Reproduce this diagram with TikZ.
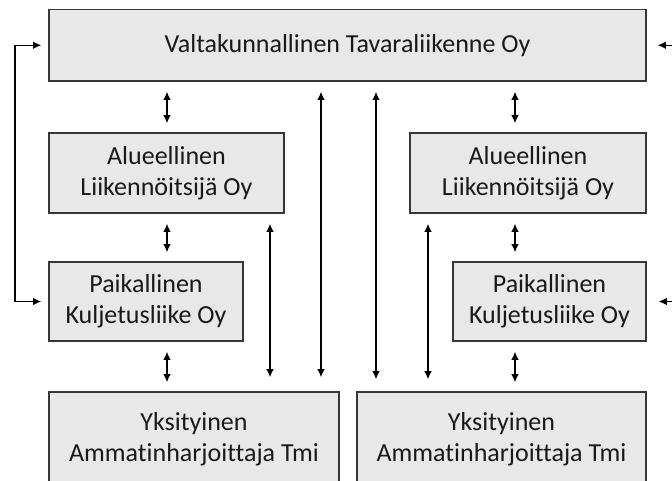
\documentclass[tikz,border=0pt]{standalone}
\usepackage{fontspec}
\setmainfont[Ligatures=NoCommon]{Carlito}
\usetikzlibrary{arrows.meta}
\definecolor{boxfill}{RGB}{232,232,232}
\definecolor{boxline}{RGB}{55,55,55}
\definecolor{txt}{RGB}{25,25,25}
\tikzset{
  org/.style={draw=boxline, line width=1.6pt, fill=boxfill, inner sep=0pt,
    align=center, text=txt, font=\fontsize{26}{31}\selectfont},
  tip/.tip={Latex[length=8pt,width=7.5pt]},
  link/.style={tip-tip, line width=1.3pt, shorten <=10pt, shorten >=9pt},
}
\begin{document}
\begin{tikzpicture}[x=1pt,y=-1pt]
\useasboundingbox (0,0) rectangle (672,481);
\clip (0,0) rectangle (672,481);

% organisation levels
\node[org, minimum width=597pt, minimum height=71.5pt] (V) at (347.5,45.25)
  {Valtakunnallinen Tavaraliikenne Oy};
\node[org, minimum width=235pt, minimum height=80pt] (AL) at (166.5,173)
  {Alueellinen\\Liikennöitsijä Oy};
\node[org, minimum width=236pt, minimum height=80pt] (AR) at (528,173)
  {Alueellinen\\Liikennöitsijä Oy};
\node[org, minimum width=194pt, minimum height=79pt] (PL) at (146,301.5)
  {Paikallinen\\Kuljetusliike Oy};
\node[org, minimum width=193pt, minimum height=79pt] (PR) at (549.5,301.5)
  {Paikallinen\\Kuljetusliike Oy};
\node[org, minimum width=290pt, minimum height=95pt] (YL) at (194,439.5)
  {Yksityinen\\Ammatinharjoittaja Tmi};
\node[org, minimum width=289pt, minimum height=95pt] (YR) at (501.5,439.5)
  {Yksityinen\\Ammatinharjoittaja Tmi};

% connector columns
\coordinate (c1) at (167,0);
\coordinate (c2) at (270,0);
\coordinate (c3) at (321,0);
\coordinate (c4) at (376,0);
\coordinate (c5) at (428,0);
\coordinate (c6) at (515,0);
\coordinate (lx) at (15,0);
\coordinate (rx) at (690,0);

% left chain
\draw[link] (V.south -| c1) -- (AL.north -| c1);
\draw[link] (AL.south -| c1) -- (PL.north -| c1);
\draw[link] (PL.south -| c1) -- (YL.north -| c1);
\draw[link, shorten >=14pt] (AL.south -| c2) -- (YL.north -| c2);
\draw[link, shorten >=14pt] (V.south -| c3) -- (YL.north -| c3);

% right chain
\draw[link, shorten >=12pt] (V.south -| c4) -- (YR.north -| c4);
\draw[link, shorten >=12pt] (AR.south -| c5) -- (YR.north -| c5);
\draw[link] (V.south -| c6) -- (AR.north -| c6);
\draw[link] (AR.south -| c6) -- (PR.north -| c6);
\draw[link] (PR.south -| c6) -- (YR.north -| c6);

% side loops
\draw[link, shorten <=7pt, shorten >=7pt]
  (V.west) -- (V.west -| lx) -- (PL.west -| lx) -- (PL.west);
\draw[link, shorten <=11pt, shorten >=12pt]
  (V.east) -- (V.east -| rx) -- (PR.east -| rx) -- (PR.east);
\end{tikzpicture}
\end{document}
